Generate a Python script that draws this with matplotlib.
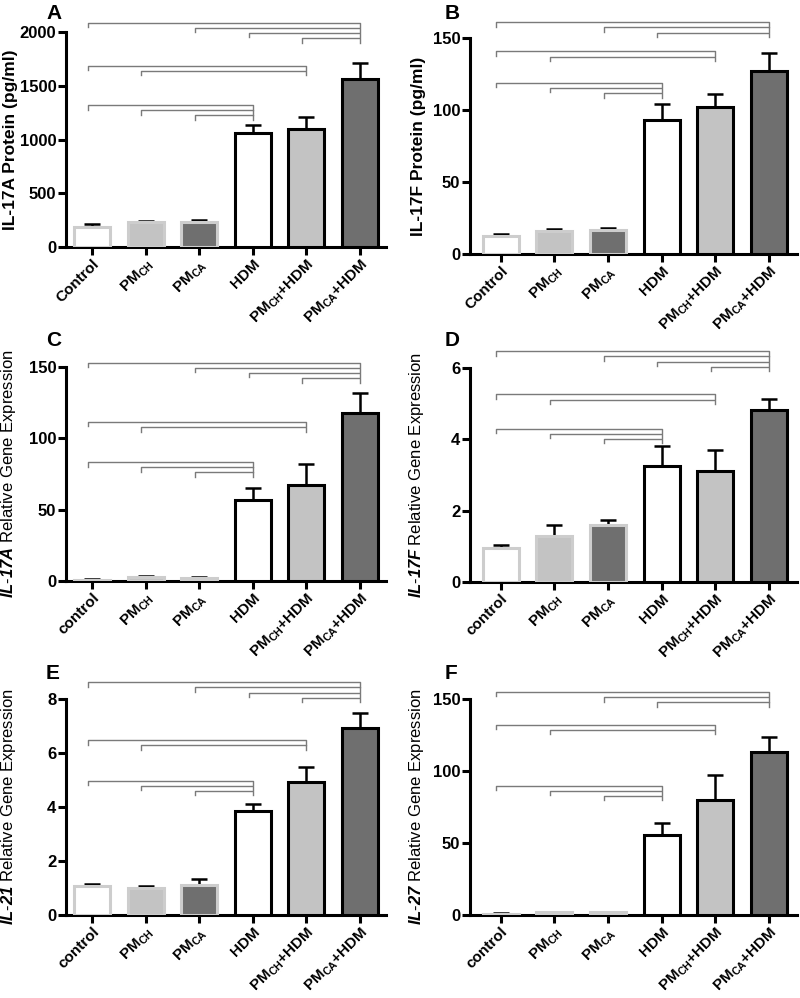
import matplotlib
matplotlib.use("Agg")
import matplotlib.pyplot as plt
import numpy as np

plt.rcParams['font.family'] = ['Liberation Sans', 'DejaVu Sans']
plt.rcParams['mathtext.fontset'] = 'custom'
plt.rcParams['mathtext.rm'] = 'Liberation Sans'
plt.rcParams['mathtext.bf'] = 'Liberation Sans:bold'
plt.rcParams['mathtext.it'] = 'Liberation Sans:italic'
plt.rcParams['mathtext.bfit'] = 'Liberation Sans:italic:bold'

# ---- data ----
groups_protein = ['Control', r'PM$_\mathbf{CH}$', r'PM$_\mathbf{CA}$', 'HDM',
                  r'PM$_\mathbf{CH}$+HDM', r'PM$_\mathbf{CA}$+HDM']
groups_gene = ['control'] + groups_protein[1:]

il17a_protein = [185, 232, 235, 1060, 1095, 1560]
il17a_protein_err = [25, 12, 18, 72, 110, 150]
il17f_protein = [12.5, 16, 16.7, 93, 102, 127]
il17f_protein_err = [1.3, 1.3, 1.3, 11, 9, 12.5]
il17a_gene = [1.0, 2.6, 2.3, 56.5, 67, 118]
il17a_gene_err = [0.3, 1.0, 0.6, 9, 15, 14]
il17f_gene = [0.95, 1.3, 1.6, 3.25, 3.12, 4.82]
il17f_gene_err = [0.1, 0.3, 0.15, 0.56, 0.58, 0.32]
il21_gene = [1.07, 1.0, 1.12, 3.86, 4.92, 6.92]
il21_gene_err = [0.07, 0.06, 0.2, 0.25, 0.56, 0.57]
il27_gene = [1.0, 1.8, 1.8, 55.5, 80, 113]
il27_gene_err = [0.4, 0.3, 0.3, 8.3, 17, 10.4]

# significance brackets: (pairs, level of first bracket)
top4 = [(0, 5), (2, 5), (3, 5), (4, 5)]
top3 = [(0, 5), (2, 5), (3, 5)]
mid = [(0, 4), (1, 4)]
low = [(0, 3), (1, 3), (2, 3)]

fills = ['white', '#c3c3c3', '#6f6f6f', 'white', '#c3c3c3', '#6f6f6f']
edges = ['#cdcdcd', '#cdcdcd', '#cdcdcd', 'black', 'black', 'black']

W, H = 800, 998


def rect(l, r, t, b):
    return [l / W, 1 - b / H, (r - l) / W, (b - t) / H]


def gene_label(name):
    return r'$\mathbfit{IL}$-$\mathbfit{%s}$ Relative Gene Expression' % name


panels = [
    # letter, rect, xlim, values, errs, labels, ylabel, bold, ymax, yticks, brackets
    ('A', rect(66, 386, 32, 247), (-0.485, 5.485), il17a_protein, il17a_protein_err,
     groups_protein, 'IL-17A Protein (pg/ml)', True, 2000, [0, 500, 1000, 1500, 2000],
     [(top4, 2087), (mid, 1687), (low, 1321)]),
    ('B', rect(470, 797, 38, 254), (-0.57, 5.52), il17f_protein, il17f_protein_err,
     groups_protein, 'IL-17F Protein (pg/ml)', True, 150, [0, 50, 100, 150],
     [(top3, 161), (mid, 140.7), (low, 119)]),
    ('C', rect(66, 386, 367, 581), (-0.485, 5.485), il17a_gene, il17a_gene_err,
     groups_gene, gene_label('17A'), False, 150,
     [0, 50, 100, 150], [(top4, 153), (mid, 111.5), (low, 83.4)]),
    ('D', rect(470, 797, 368, 582), (-0.57, 5.52), il17f_gene, il17f_gene_err,
     groups_gene, gene_label('17F'), False, 6,
     [0, 2, 4, 6], [(top4, 6.47), (mid, 5.26), (low, 4.30)]),
    ('E', rect(66, 386, 699, 915), (-0.485, 5.485), il21_gene, il21_gene_err,
     groups_gene, gene_label('21'), False, 8,
     [0, 2, 4, 6, 8], [(top4, 8.62), (mid, 6.47), (low, 4.98)]),
    ('F', rect(470, 797, 699, 915), (-0.57, 5.52), il27_gene, il27_gene_err,
     groups_gene, gene_label('27'), False, 150,
     [0, 50, 100, 150], [(top3, 154.9), (mid, 132.1), (low, 89.9)]),
]

fig = plt.figure(figsize=(8, 9.98), dpi=100)

for letter, pos, xlim, vals, errs, labels, ylab, bold, ymax, yticks, brackets in panels:
    ax = fig.add_axes(pos)
    x = np.arange(len(vals))
    ax.bar(x, vals, width=0.67, color=fills, edgecolor=edges, linewidth=2.2, zorder=3)
    ax.errorbar(x, vals, yerr=[np.zeros(len(vals)), errs], fmt='none', ecolor='black',
                elinewidth=1.8, capsize=5.5, capthick=1.8, zorder=2)

    step = 0.024 * ymax
    drop = 0.021 * ymax
    for pairs, y0 in brackets:
        for k, (i, j) in enumerate(pairs):
            y = y0 - k * step
            xl = i - 0.08
            ax.plot([xl, xl, j, j], [y - drop, y, y, y - drop], color='#7a7a7a',
                    lw=1.0, clip_on=False, zorder=4)

    ax.set_xlim(*xlim)
    ax.set_ylim(0, ymax)
    ax.set_yticks(yticks)
    ax.set_xticks(x)
    ax.set_xticklabels(labels, rotation=45, ha='right', va='top',
                       rotation_mode='anchor', fontsize=11, fontweight='bold')
    for t in ax.get_yticklabels():
        t.set_fontsize(12)
        t.set_fontweight('bold')
    for s in ['top', 'right']:
        ax.spines[s].set_visible(False)
    for s in ['left', 'bottom']:
        ax.spines[s].set_linewidth(2.2)
    ax.tick_params(axis='both', direction='out', length=5.5, width=2.2, pad=1.5)
    ax.tick_params(axis='x', pad=1.5)
    ax.set_ylabel(ylab, fontsize=12.5 if bold else 12,
                  fontweight='bold' if bold else 'normal')
    if pos[0] < 0.5:
        ax.yaxis.set_label_coords(-0.15, 0.5)
    else:
        ax.yaxis.set_label_coords(-0.136, 0.5)

    lx = 46 if pos[0] < 0.5 else 445
    ly = {'A': 4, 'B': 4, 'C': 331, 'D': 331, 'E': 664, 'F': 664}[letter]
    fig.text(lx / W, 1 - ly / H, letter, fontsize=15, fontweight='bold',
             ha='left', va='top')

fig.savefig('out.png', dpi=100)
